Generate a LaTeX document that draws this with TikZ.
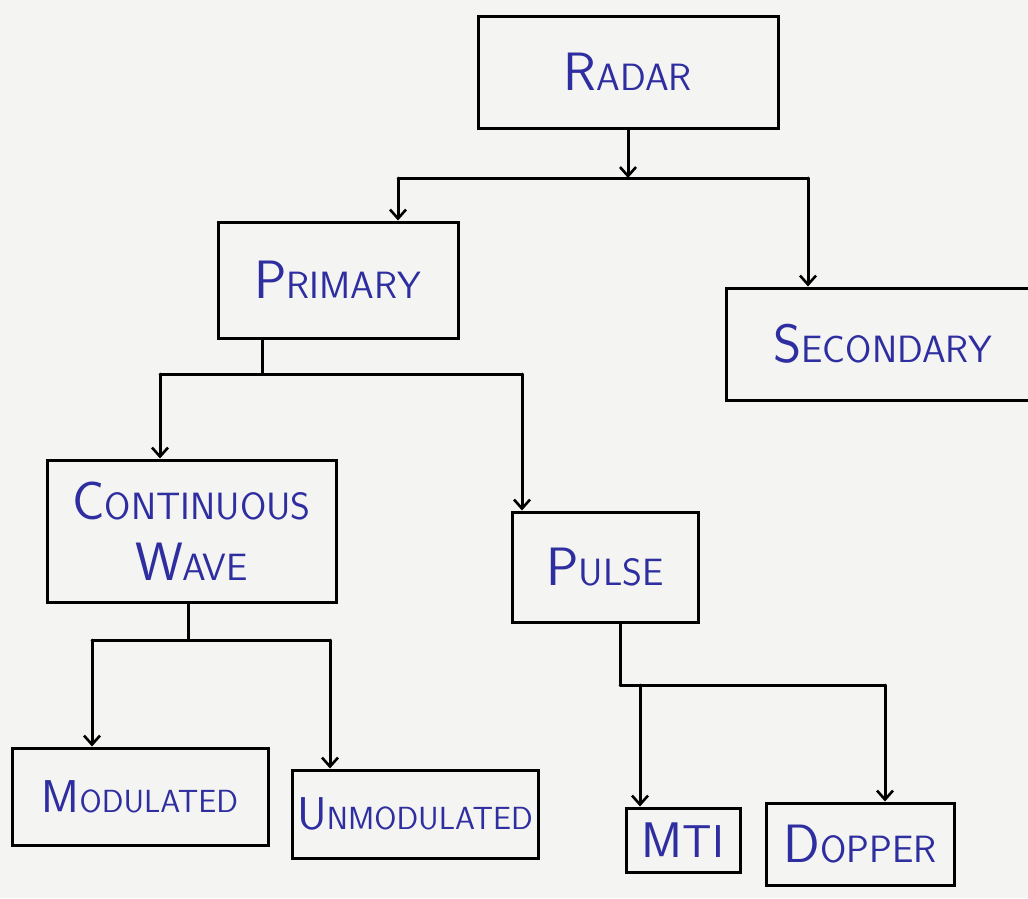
\documentclass[tikz,border=0pt]{standalone}
\usepackage{fontspec}
\usetikzlibrary{arrows.meta}
\definecolor{ink}{HTML}{2E2EA0}
\definecolor{paper}{HTML}{F4F4F2}
\newcommand\hw[2]{{\fontsize{54}{54}\selectfont #1}{\fontsize{38}{38}\selectfont #2}}
\newcommand\hwm[2]{{\fontsize{46}{46}\selectfont #1}{\fontsize{32}{32}\selectfont #2}}
\begin{document}
\begin{tikzpicture}[x=1pt,y=-1pt,
  box/.style={draw=black, line width=3pt, rectangle, inner sep=0pt, text=ink, font=\sffamily, align=center},
  line/.style={draw=black, line width=3pt, line cap=round},
  arr/.style={line, -{Straight Barb[length=9pt,width=16pt,line width=2.6pt]}}]
\fill[paper] (0,0) rectangle (1028,898);
\useasboundingbox (0,0) rectangle (1028,898);
% boxes
\node[box, minimum width=300pt, minimum height=112pt] (radar) at (628,72) {\hw{R}{ADAR}};
\node[box, minimum width=240pt, minimum height=116pt] (primary) at (338,280) {\hw{P}{RIMARY}};
\node[box, minimum width=314pt, minimum height=112pt] (secondary) at (883,344) {\hw{S}{ECONDARY}};
\node[box, minimum width=289pt, minimum height=142pt] (cw) at (191.5,531) {\hw{C}{ONTINUOUS}\\[22pt]\hw{W}{AVE}};
\node[box, minimum width=186pt, minimum height=110pt] (pulse) at (605,567) {\hw{P}{ULSE}};
\node[box, minimum width=256pt, minimum height=97pt] (mod) at (140,796.5) {\hwm{M}{ODULATED}};
\node[box, minimum width=246pt, minimum height=88pt] (unmod) at (415,814) {\hwm{U}{NMODULATED}};
\node[box, minimum width=114pt, minimum height=64pt] (mti) at (683,840) {{\fontsize{50}{50}\selectfont M}{\fontsize{46}{46}\selectfont TI}};
\node[box, minimum width=188pt, minimum height=82pt] (dopper) at (860,844) {\hw{D}{OPPER}};
% radar branches
\coordinate (j1) at (628,178);
\coordinate (pl) at (398,178);
\coordinate (pr) at (808,178);
\draw[arr] (radar.south) -- (j1);
\draw[line] (pl) -- (pr);
\draw[arr] (pl) -- (pl |- primary.north);
\draw[arr] (pr) -- (pr |- secondary.north);
% primary branches
\coordinate (s2) at (262,374);
\coordinate (cl) at (160,374);
\coordinate (cr) at (522,374);
\draw[line] (s2 |- primary.south) -- (s2);
\draw[line] (cl) -- (cr);
\draw[arr] (cl) -- (cl |- cw.north);
\draw[arr] (cr) -- (cr |- pulse.north);
% cw branches
\coordinate (s3) at (188,640);
\coordinate (ml) at (92,640);
\coordinate (mr) at (330,640);
\draw[line] (s3 |- cw.south) -- (s3);
\draw[line] (ml) -- (mr);
\draw[arr] (ml) -- (ml |- mod.north);
\draw[arr] (mr) -- (mr |- unmod.north);
% pulse branches
\coordinate (s4) at (620,685);
\coordinate (tl) at (640,685);
\coordinate (tr) at (885,685);
\draw[line] (s4 |- pulse.south) -- (s4);
\draw[line] (s4) -- (tr);
\draw[arr] (tl) -- (tl |- mti.north);
\draw[arr] (tr) -- (tr |- dopper.north);
\end{tikzpicture}
\end{document}
